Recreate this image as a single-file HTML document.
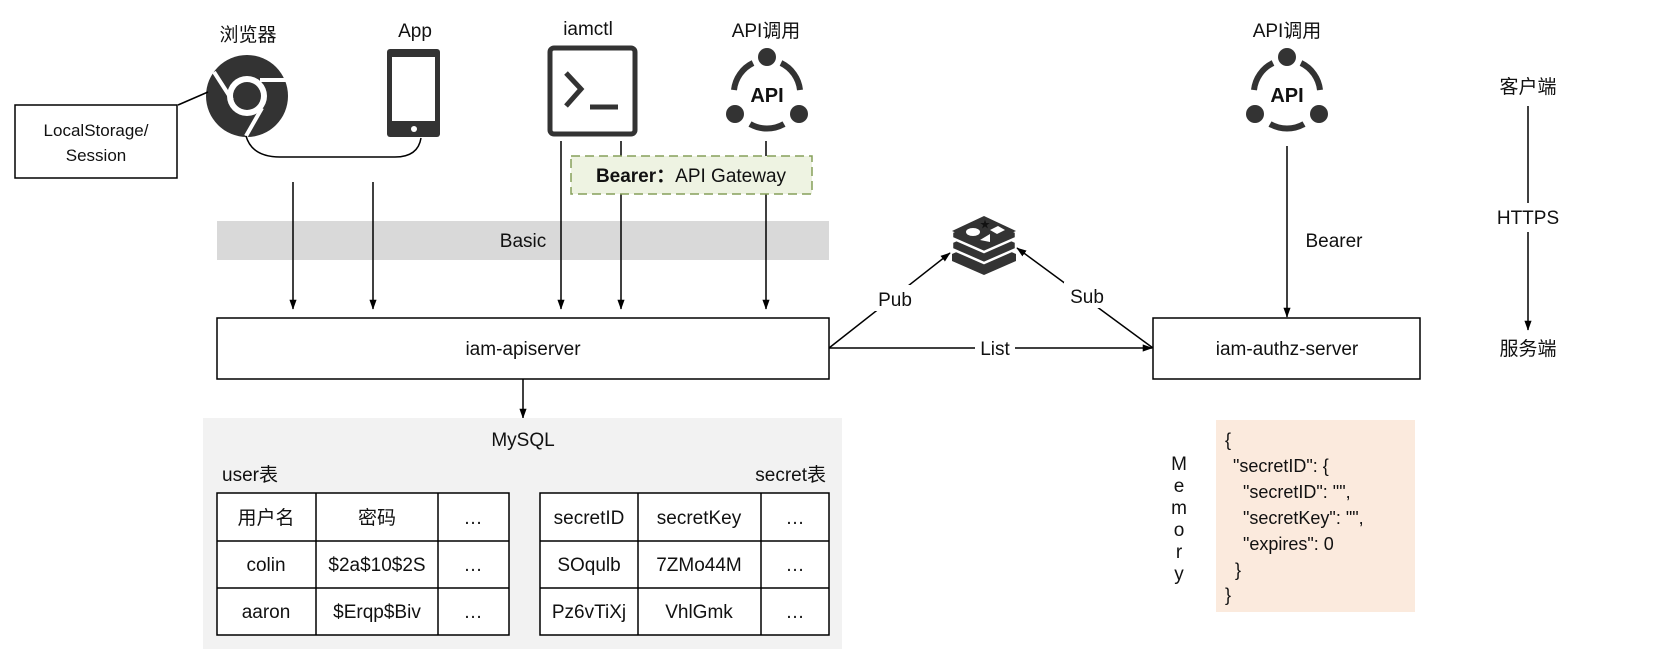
<!DOCTYPE html>
<html><head><meta charset="utf-8"><style>
html,body{margin:0;padding:0;background:#fff;}
svg{display:block;}
text{font-family:"Liberation Sans","Noto Sans CJK SC",sans-serif;fill:#111;}
</style></head><body>
<svg width="1670" height="672" viewBox="0 0 1670 672" xmlns="http://www.w3.org/2000/svg">
<defs>
<marker id="ar" markerWidth="10" markerHeight="14" refX="13" refY="5" orient="auto" markerUnits="userSpaceOnUse" viewBox="0 0 14 10">
<path d="M0,0 L14,5 L0,10 z" fill="#000"/></marker>
</defs>

<g font-size="19" text-anchor="middle">
<text x="248" y="41">浏览器</text>
<text x="415" y="37">App</text>
<text x="588" y="35">iamctl</text>
<text x="766" y="37">API调用</text>
<text x="1287" y="37">API调用</text>
<text x="1528" y="93">客户端</text>
<text x="1528" y="224">HTTPS</text>
<text x="1528" y="355">服务端</text>
</g>

<g>
<circle cx="247" cy="96" r="41" fill="#333"/>
<circle cx="247" cy="96" r="20" fill="#fff"/>
<circle cx="247" cy="96" r="14" fill="#333"/>
<path d="M214,72 L232,100" stroke="#fff" stroke-width="4"/>
<path d="M260,80 L286,80" stroke="#fff" stroke-width="4"/>
<path d="M262,108 L246,136" stroke="#fff" stroke-width="4"/>
</g>
<line x1="178" y1="105" x2="208" y2="92" stroke="#000" stroke-width="1.5"/>
<rect x="15" y="105" width="162" height="73" fill="#fff" stroke="#000" stroke-width="1.5"/>
<text x="96" y="136" font-size="17" text-anchor="middle">LocalStorage/</text>
<text x="96" y="161" font-size="17" text-anchor="middle">Session</text>
<path d="M246,136 Q252,157 280,157 L395,157 Q418,157 421,138" fill="none" stroke="#000" stroke-width="1.5"/>

<rect x="387" y="49" width="53" height="88" rx="3" fill="#333"/>
<rect x="392" y="57" width="43" height="64" fill="#fff"/>
<circle cx="414" cy="129" r="3" fill="#fff"/>

<rect x="550" y="48" width="85" height="86" rx="4" fill="none" stroke="#333" stroke-width="5"/>
<path d="M566,73 L581,89 L566,106" fill="none" stroke="#333" stroke-width="5"/>
<line x1="590" y1="107" x2="618" y2="107" stroke="#333" stroke-width="5"/>

<g transform="translate(767,94)">
<path d="M-14,-31 A34,34 0 0 0 -33,-4" fill="none" stroke="#333" stroke-width="6"/>
<path d="M14,-31 A34,34 0 0 1 33,-4" fill="none" stroke="#333" stroke-width="6"/>
<path d="M-17,30 A34,34 0 0 0 17,30" fill="none" stroke="#333" stroke-width="6"/>
<circle cx="0" cy="-37" r="9" fill="#333"/>
<circle cx="-32" cy="20" r="9" fill="#333"/>
<circle cx="32" cy="20" r="9" fill="#333"/>
<text x="0" y="8" font-size="20" font-weight="bold" text-anchor="middle" fill="#333">API</text>
</g>
<g transform="translate(1287,94)">
<path d="M-14,-31 A34,34 0 0 0 -33,-4" fill="none" stroke="#333" stroke-width="6"/>
<path d="M14,-31 A34,34 0 0 1 33,-4" fill="none" stroke="#333" stroke-width="6"/>
<path d="M-17,30 A34,34 0 0 0 17,30" fill="none" stroke="#333" stroke-width="6"/>
<circle cx="0" cy="-37" r="9" fill="#333"/>
<circle cx="-32" cy="20" r="9" fill="#333"/>
<circle cx="32" cy="20" r="9" fill="#333"/>
<text x="0" y="8" font-size="20" font-weight="bold" text-anchor="middle" fill="#333">API</text>
</g>

<rect x="217" y="221" width="612" height="39" fill="#d9d9d9"/>
<text x="523" y="247" font-size="19" text-anchor="middle">Basic</text>

<g stroke="#000" stroke-width="1.5" marker-end="url(#ar)">
<line x1="293" y1="182" x2="293" y2="309"/>
<line x1="373" y1="182" x2="373" y2="309"/>
<line x1="561" y1="141" x2="561" y2="309"/>
<line x1="621" y1="141" x2="621" y2="309"/>
<line x1="766" y1="141" x2="766" y2="309"/>
<line x1="1287" y1="146" x2="1287" y2="317"/>
<line x1="523" y1="379" x2="523" y2="418"/>
<line x1="1528" y1="232" x2="1528" y2="330"/>
</g>
<line x1="1528" y1="106" x2="1528" y2="203" stroke="#000" stroke-width="1.5"/>

<rect x="571" y="156" width="241" height="38" fill="#eef3e2" stroke="#86a05a" stroke-width="1.5" stroke-dasharray="9,5"/>
<text x="691" y="182" font-size="19" text-anchor="middle"><tspan font-weight="bold">Bearer：</tspan>API Gateway</text>

<rect x="217" y="318" width="612" height="61" fill="#fff" stroke="#000" stroke-width="1.5"/>
<text x="523" y="355" font-size="19" text-anchor="middle">iam-apiserver</text>
<rect x="1153" y="318" width="267" height="61" fill="#fff" stroke="#000" stroke-width="1.5"/>
<text x="1287" y="355" font-size="19" text-anchor="middle">iam-authz-server</text>
<text x="1334" y="247" font-size="19" text-anchor="middle">Bearer</text>

<g fill="#333">
<path d="M952,254 L984,240 L1016,254 L1016,261 L984,275 L952,261z"/>
<path d="M952,242 L984,228 L1016,242 L1016,249 L984,263 L952,249z" stroke="#fff" stroke-width="2.5"/>
<path d="M952,232 L984,218 L1016,232 L1016,238 L984,252 L952,238z" stroke="#fff" stroke-width="2.5"/>
<path d="M952,231 L984,216 L1016,231 L984,245z"/>
</g>
<ellipse cx="973" cy="232" rx="7" ry="4" fill="#fff"/>
<path d="M990,230 L998,226 L1005,230 L997,234z" fill="#fff"/>
<path d="M980,240 L990,234 L990,242z" fill="#fff"/>
<text x="985" y="228" font-size="10" fill="#fff" text-anchor="middle">★</text>

<g stroke="#000" stroke-width="1.5">
<line x1="829" y1="348" x2="950" y2="253" marker-end="url(#ar)"/>
<line x1="1153" y1="348" x2="1017" y2="248" marker-end="url(#ar)"/>
<line x1="829" y1="348" x2="1152" y2="348" marker-end="url(#ar)"/>
</g>
<rect x="868" y="285" width="56" height="26" fill="#fff"/>
<text x="895" y="306" font-size="19" text-anchor="middle">Pub</text>
<rect x="1064" y="282" width="46" height="26" fill="#fff"/>
<text x="1087" y="303" font-size="19" text-anchor="middle">Sub</text>
<rect x="975" y="336" width="40" height="24" fill="#fff"/>
<text x="995" y="355" font-size="19" text-anchor="middle">List</text>

<rect x="203" y="418" width="639" height="231" fill="#f2f2f2"/>
<text x="523" y="446" font-size="19" text-anchor="middle">MySQL</text>
<text x="222" y="481" font-size="19">user表</text>
<text x="826" y="481" font-size="19" text-anchor="end">secret表</text>
<g fill="#fff" stroke="#000" stroke-width="1.5">
<rect x="217" y="493" width="292" height="142"/>
<rect x="540" y="493" width="289" height="142"/>
</g>
<g stroke="#000" stroke-width="1.5">
<line x1="217" y1="541" x2="509" y2="541"/><line x1="217" y1="588" x2="509" y2="588"/>
<line x1="316" y1="493" x2="316" y2="635"/><line x1="438" y1="493" x2="438" y2="635"/>
<line x1="540" y1="541" x2="829" y2="541"/><line x1="540" y1="588" x2="829" y2="588"/>
<line x1="638" y1="493" x2="638" y2="635"/><line x1="761" y1="493" x2="761" y2="635"/>
</g>
<g font-size="19" text-anchor="middle">
<text x="266" y="524">用户名</text><text x="377" y="524">密码</text><text x="473" y="524">…</text>
<text x="266" y="571">colin</text><text x="377" y="571">$2a$10$2S</text><text x="473" y="571">…</text>
<text x="266" y="618">aaron</text><text x="377" y="618">$Erqp$Biv</text><text x="473" y="618">…</text>
<text x="589" y="524">secretID</text><text x="699" y="524">secretKey</text><text x="795" y="524">…</text>
<text x="589" y="571">SOqulb</text><text x="699" y="571">7ZMo44M</text><text x="795" y="571">…</text>
<text x="589" y="618">Pz6vTiXj</text><text x="699" y="618">VhlGmk</text><text x="795" y="618">…</text>
</g>

<g font-size="19" text-anchor="middle">
<text x="1179" y="470">M</text><text x="1179" y="492">e</text><text x="1179" y="514">m</text>
<text x="1179" y="536">o</text><text x="1179" y="558">r</text><text x="1179" y="580">y</text>
</g>
<rect x="1216" y="420" width="199" height="192" fill="#fbeadd"/>
<g font-size="18">
<text x="1225" y="446">{</text>
<text x="1233" y="472">"secretID": {</text>
<text x="1243" y="498">"secretID": "",</text>
<text x="1243" y="524">"secretKey": "",</text>
<text x="1243" y="550">"expires": 0</text>
<text x="1235" y="576">}</text>
<text x="1225" y="601">}</text>
</g>
</svg>
</body></html>
